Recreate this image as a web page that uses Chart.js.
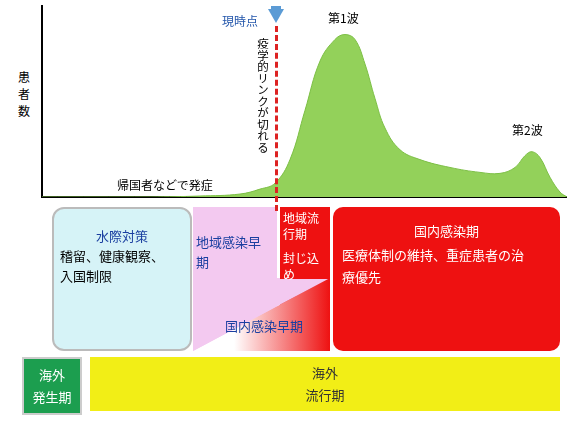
<!DOCTYPE html>
<html><head><meta charset="utf-8">
<script src="https://cdn.jsdelivr.net/npm/chart.js@4"></script>
<style>
body{margin:0;width:567px;height:425px;background:#fff;font-family:"Noto Sans CJK JP",sans-serif;position:relative;overflow:hidden}
.a{position:absolute;box-sizing:border-box}
.t{position:absolute;white-space:nowrap;font-size:13px}
</style></head><body>
<div class="a" style="left:34px;top:5px;width:533px;height:200px"><canvas id="c" width="533" height="200"></canvas></div>
<div class="t" style="left:18px;top:68px;width:14px;line-height:17px;font-size:12px;white-space:normal">患者数</div>
<div class="t" style="left:117px;top:176px;font-size:12px">帰国者などで発症</div>
<div class="t" style="left:222px;top:12px;color:#2255aa;font-size:12px">現時点</div>
<div class="t" style="left:328px;top:9px;font-size:12px">第1波</div>
<div class="t" style="left:512px;top:121px;font-size:12px">第2波</div>
<div class="t" style="left:256px;top:38px;font-size:11.5px;writing-mode:vertical-rl;line-height:14px">疫学的リンクが切れる</div>
<div class="a" style="left:268px;top:9px;width:0;height:0;border-left:8px solid transparent;border-right:8px solid transparent;border-top:14px solid #5b9bd5"></div>
<div class="a" style="left:271px;top:6px;width:10px;height:6px;background:#5b9bd5"></div>

<div class="a" style="left:52px;top:207px;width:140px;height:144px;background:#d6f3f7;border:2px solid #bbb;border-radius:12px"></div>
<div class="t" style="left:52px;top:226px;width:140px;text-align:center;color:#1a3fa0">水際対策</div>
<div class="t" style="left:60px;top:246px;line-height:20px">稽留、健康観察、<br>入国制限</div>
<div class="a" style="left:193px;top:207px;width:84px;height:144px;background:#f3c9f0"></div>
<div class="t" style="left:196px;top:232px;color:#1a3fa0;line-height:20px">地域感染早<br>期</div>
<div class="a" style="left:280px;top:207px;width:50px;height:144px;background:#ee1111"></div>
<div class="a" style="left:193px;top:278px;width:137px;height:73px;background:linear-gradient(to right,#fff 30%,#ee1111 100%);clip-path:polygon(0 100%,100% 0,100% 100%)"></div>
<div class="a" style="left:193px;top:278px;width:137px;height:73px;background:#f3c9f0;clip-path:polygon(0 0,100% 0,0 100%)"></div>
<div class="a" style="left:280px;top:207px;width:50px;height:72px;background:#ee1111"></div>
<div class="t" style="left:283px;top:210px;color:#fff;font-size:12px;line-height:16px">地域流<br>行期</div>
<div class="t" style="left:283px;top:250px;color:#fff;font-size:12px;line-height:16px">封じ込<br>め</div>
<div class="t" style="left:225px;top:316px;color:#1a3fa0">国内感染早期</div>
<div class="a" style="left:333px;top:207px;width:227px;height:144px;background:#ee1111;border-radius:10px"></div>
<div class="t" style="left:333px;top:221px;width:227px;text-align:center;color:#fff">国内感染期</div>
<div class="t" style="left:342px;top:244px;color:#fff;line-height:22px">医療体制の維持、重症患者の治<br>療優先</div>

<div class="a" style="left:22px;top:357px;width:60px;height:58px;background:#1c9e4f;border:2px solid #ccc"></div>
<div class="t" style="left:22px;top:364px;width:60px;text-align:center;color:#fff;line-height:22px">海外<br>発生期</div>
<div class="a" style="left:90px;top:357px;width:470px;height:54px;background:#f2ee16"></div>
<div class="t" style="left:90px;top:362px;width:470px;text-align:center;color:#333;line-height:22px">海外<br>流行期</div>
<div class="a" style="left:275px;top:26px;width:0;height:185px;border-left:3px dashed #dd2222"></div>
<script>
const xs=[0,108,158,198,218,233,248,263,278,293,303,313,323,333,343,358,378,408,438,458,473,483,490,498,508,518,525];
const ys=[0,0,1,3,8,14,38,88,138,160,165,160,135,100,70,48,38,30,25,24,30,42,46,40,20,5,0];
const pts=xs.map((x,i)=>({x,y:ys[i]}));
new Chart(document.getElementById('c'),{type:'line',
data:{datasets:[{data:pts,fill:'origin',backgroundColor:'#93d15a',borderColor:'#7cbf45',borderWidth:1,pointRadius:0,tension:0.4}]},
options:{animation:false,responsive:false,maintainAspectRatio:false,
layout:{padding:0},
plugins:{legend:{display:false},tooltip:{enabled:false}},
scales:{x:{type:'linear',min:0,max:525,ticks:{display:false},grid:{display:false},border:{color:'#000',width:2}},
y:{min:0,max:195,ticks:{display:false},grid:{display:false},border:{color:'#000',width:2}}}}});
</script>
</body></html>
